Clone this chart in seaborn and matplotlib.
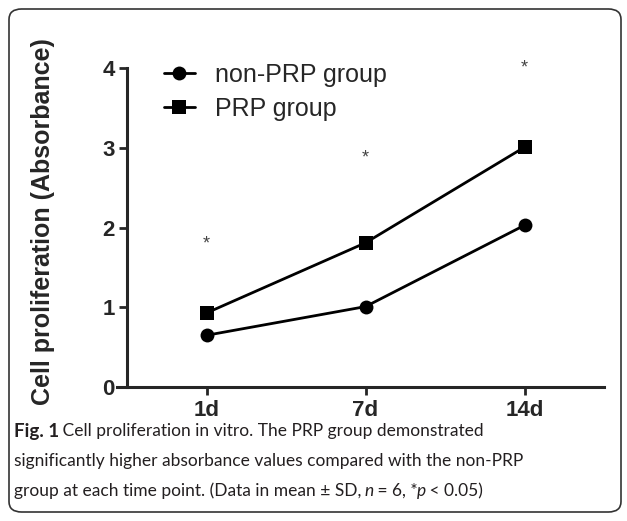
import pandas as pd
import matplotlib.pyplot as plt
import seaborn as sns
from matplotlib.patches import FancyBboxPatch

sns.set_style('ticks')
plt.rcParams['font.family'] = ['Liberation Sans', 'DejaVu Sans']

days = ['1d', '7d', '14d']
non_prp = [0.65, 1.01, 2.03]
prp = [0.93, 1.81, 3.01]
star_y = [1.80, 2.87, 4.0]

df = pd.DataFrame({
    'day': days * 2,
    'value': non_prp + prp,
    'group': ['non-PRP group'] * 3 + ['PRP group'] * 3,
})

fig = plt.figure(figsize=(6.27, 5.21), dpi=100)
ax = fig.add_axes([117 / 627, 0.257, 487 / 627, 0.612])

sns.lineplot(data=df, x='day', y='value', style='group',
             markers={'non-PRP group': 'o', 'PRP group': 's'}, dashes=False,
             color='black', markersize=10, linewidth=2, markeredgewidth=0,
             ax=ax, legend=False)

for i, y in enumerate(star_y):
    ax.text(i, y, '*', ha='center', va='center', fontsize=13, color='#444444')

ax.set_xlim(-0.563, 2.5)
ax.set_ylim(0, 4)
ax.set_yticks([0, 1, 2, 3, 4])
ax.set_xlabel('')
ax.spines['left'].set_position(('data', -0.5))
ax.set_ylabel('Cell proliferation (Absorbance)', fontsize=18, fontweight='bold', labelpad=34)
ax.yaxis.label.set_y(0.52)
ax.tick_params(labelsize=16, width=2, length=6, pad=3)
for lab in ax.get_xticklabels() + ax.get_yticklabels():
    lab.set_fontweight('bold')
sns.despine(ax=ax)
for s in ['left', 'bottom']:
    ax.spines[s].set_linewidth(2.2)

h1, = ax.plot([], [], color='black', marker='o', lw=2, ms=10, mew=0)
h2, = ax.plot([], [], color='black', marker='s', lw=2, ms=10, mew=0)
ax.legend([h1, h2], ['non-PRP group', 'PRP group'], loc='upper left',
          bbox_to_anchor=(0.05, 1.088), frameon=False, fontsize=18,
          handlelength=1.25, handletextpad=0.8, labelspacing=0.4)

# outer rounded frame
frame = FancyBboxPatch((9 / 627, 9 / 521), 612 / 627, 503 / 521,
                       boxstyle='round,pad=0,rounding_size=0.02',
                       transform=fig.transFigure, fill=False,
                       edgecolor='#333333', linewidth=1.2)
fig.patches.append(frame)

# caption, drawn piece by piece
cap_font = ['Lato', 'DejaVu Sans']
lines = [
    [('Fig. 1', 'bold', 'normal'), (' Cell proliferation in vitro. The PRP group demonstrated', 'normal', 'normal')],
    [('significantly higher absorbance values compared with the non-PRP', 'normal', 'normal')],
    [('group at each time point. (Data in mean \u00b1 SD, ', 'normal', 'normal'), ('n', 'normal', 'italic'),
     (' = 6, *', 'normal', 'normal'), ('p', 'normal', 'italic'), (' < 0.05)', 'normal', 'normal')],
]
line_y = [431, 461, 491]
fig.canvas.draw()
r = fig.canvas.get_renderer()
for segs, ypx in zip(lines, line_y):
    x = 14 / 627
    for txt, w, st in segs:
        size = 13.5 if w == 'bold' else 12.5
        t = fig.text(x, 1 - ypx / 521, txt, fontsize=size, fontweight=w, fontstyle=st,
                     family=cap_font, va='center', ha='left', color='#231f20')
        bb = t.get_window_extent(renderer=r)
        x += (bb.width - 1) / 627

fig.savefig('out.png', dpi=100)
